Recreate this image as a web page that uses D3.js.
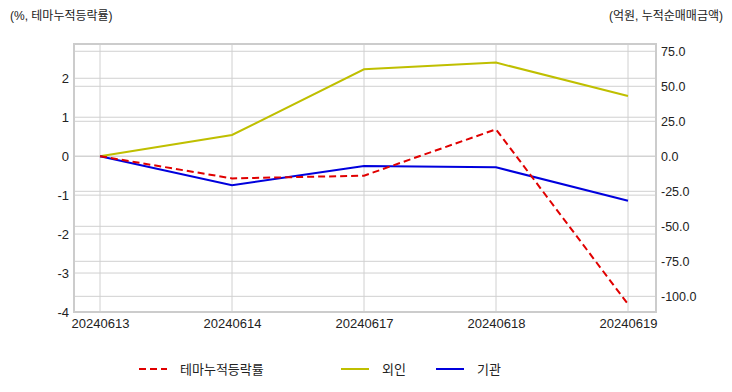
<!DOCTYPE html>
<html><head><meta charset="utf-8">
<script src="https://cdn.jsdelivr.net/npm/d3@7"></script>
<style>body{margin:0;background:#fff;} text{font-family:"Liberation Sans","Noto Sans CJK KR",sans-serif;}</style>
</head><body>
<svg id="c" width="732" height="392"></svg>
<script>
const dates = ["20240613","20240614","20240617","20240618","20240619"];
const themeRate = [0, -0.57, -0.5, 0.69, -3.8];
const foreign = [0, 15.2, 62.1, 66.9, 43.1];
const institution = [0, -20.7, -6.9, -7.9, -31.7];
const leftTicks = [-4,-3,-2,-1,0,1,2];
const rightTicks = [-100,-75,-50,-25,0,25,50,75];

const svg = d3.select("#c");
const L = 74, R = 656, T = 44, B = 312;
const x = d3.scalePoint().domain(dates).range([100, 628]);
const yL = d3.scaleLinear().domain([-4, 2.88]).range([B, T]);
const yR = d3.scaleLinear().domain([-111.2, 80.2]).range([B, T]);

const grid = svg.append("g");
grid.selectAll(".gl").data(leftTicks).join("line")
  .attr("x1", L).attr("x2", R).attr("y1", d=>yL(d)).attr("y2", d=>yL(d))
  .attr("stroke", "#d0d0d0").attr("stroke-width", 1);
grid.selectAll(".gr").data(rightTicks).join("line")
  .attr("x1", L).attr("x2", R).attr("y1", d=>yR(d)).attr("y2", d=>yR(d))
  .attr("stroke", "#d0d0d0").attr("stroke-width", 1);
grid.selectAll(".gx").data(dates).join("line")
  .attr("x1", d=>x(d)).attr("x2", d=>x(d)).attr("y1", T).attr("y2", B)
  .attr("stroke", "#d0d0d0").attr("stroke-width", 1);

svg.append("rect").attr("x", L).attr("y", T).attr("width", R-L).attr("height", B-T)
  .attr("fill", "none").attr("stroke", "#cccccc").attr("stroke-width", 2);

// axes
const axL = d3.axisLeft(yL).tickValues(leftTicks).tickSize(0).tickPadding(5).tickFormat(d=>String(d));
const gL = svg.append("g").attr("transform", `translate(${L},0)`).call(axL);
const axR = d3.axisRight(yR).tickValues(rightTicks).tickSize(0).tickPadding(5).tickFormat(d=>d.toFixed(1));
const gR = svg.append("g").attr("transform", `translate(${R},0)`).call(axR);
const axX = d3.axisBottom(x).tickSize(0).tickPadding(7);
const gX = svg.append("g").attr("transform", `translate(0,${B})`).call(axX);
[gL,gR,gX].forEach(g=>{
  g.select(".domain").remove();
  g.selectAll("text").attr("font-size", 13).attr("fill", "#222")
    .attr("font-family", '"Liberation Sans","Noto Sans CJK KR",sans-serif');
});
gR.selectAll("text").attr("font-family", '"DejaVu Sans",sans-serif').attr("font-size", 12.5);

// lines
const lineL = d3.line().x((d,i)=>x(dates[i])).y(d=>yL(d));
const lineR = d3.line().x((d,i)=>x(dates[i])).y(d=>yR(d));
svg.append("path").attr("d", lineR(foreign)).attr("fill","none").attr("stroke","#bfbf00").attr("stroke-width",2);
svg.append("path").attr("d", lineR(institution)).attr("fill","none").attr("stroke","#0000dd").attr("stroke-width",2);
svg.append("path").attr("d", lineL(themeRate)).attr("fill","none").attr("stroke","#e00000").attr("stroke-width",2).attr("stroke-dasharray","7,4");

// axis titles
svg.append("text").attr("x", 10).attr("y", 20).attr("font-size", 12).attr("fill", "#222").text("(%, 테마누적등락률)")
  .attr("font-family", '"Noto Sans CJK KR",sans-serif');
svg.append("text").attr("x", 723).attr("y", 20).attr("text-anchor","end").attr("font-size", 12).attr("fill", "#222").text("(억원, 누적순매매금액)")
  .attr("font-family", '"Noto Sans CJK KR",sans-serif');

// legend
const legend = [
  {name:"테마누적등락률", color:"#e00000", dash:"7,4", x:139},
  {name:"외인", color:"#bfbf00", dash:null, x:341},
  {name:"기관", color:"#0000dd", dash:null, x:436}
];
const lg = svg.append("g");
legend.forEach(l=>{
  lg.append("line").attr("x1", l.x).attr("x2", l.x+28).attr("y1", 369).attr("y2", 369)
    .attr("stroke", l.color).attr("stroke-width", 2).attr("stroke-dasharray", l.dash);
  lg.append("text").attr("x", l.x+41).attr("y", 374).attr("font-size", 13).attr("fill","#222")
    .attr("font-family", '"Noto Sans CJK KR",sans-serif').text(l.name);
});
</script>
</body></html>
